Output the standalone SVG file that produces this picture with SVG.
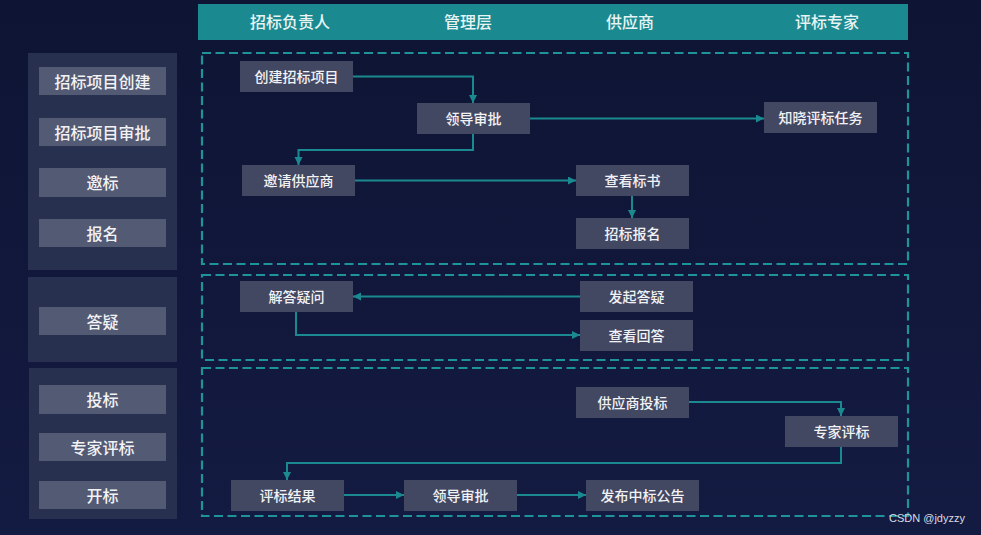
<svg xmlns="http://www.w3.org/2000/svg" width="981" height="535" viewBox="0 0 981 535">
<style>
.hdr{font-family:"Noto Sans CJK SC","Liberation Sans",sans-serif;font-size:16px;font-weight:500;fill:#e8f4f4;text-anchor:middle;dominant-baseline:central}
.panel{fill:#283050}
.btn{fill:#535a74}
.btxt{font-family:"Noto Sans CJK SC","Liberation Sans",sans-serif;font-size:16px;font-weight:500;fill:#f2f2f5;text-anchor:middle;dominant-baseline:central}
.lane{fill:none;stroke:#1e9399;stroke-width:2.2;stroke-dasharray:9 4.5}
.node rect{fill:#434862}
.node text{font-family:"Noto Sans CJK SC","Liberation Sans",sans-serif;font-size:14px;font-weight:500;fill:#f2f2f5;text-anchor:middle;dominant-baseline:central}
.conn{fill:none;stroke:#1b8a90;stroke-width:2;marker-end:url(#arr)}
</style>
<defs>
<linearGradient id="bg" x1="0" y1="0" x2="0" y2="1">
<stop offset="0" stop-color="#0e1433"/>
<stop offset="1" stop-color="#141b42"/>
</linearGradient>
<marker id="arr" markerUnits="userSpaceOnUse" markerWidth="9" markerHeight="9" refX="8" refY="4" orient="auto">
<path d="M0,0 L8,4 L0,8 z" fill="#1b8a90"/>
</marker>
</defs>
<rect x="0" y="0" width="981" height="535" fill="url(#bg)"/>

<g id="header">
<rect x="198" y="4" width="710" height="36" fill="#1b8a90"/>
<text class="hdr" x="290" y="20.5">招标负责人</text>
<text class="hdr" x="468" y="20.5">管理层</text>
<text class="hdr" x="630" y="20.5">供应商</text>
<text class="hdr" x="827" y="20.5">评标专家</text>
</g>

<g id="phases">
<rect class="panel" x="28" y="53" width="149" height="217"/>
<rect class="panel" x="28" y="277" width="149" height="85"/>
<rect class="panel" x="29" y="368" width="148" height="151"/>
<rect class="btn" x="39" y="67" width="127" height="28"/><text class="btxt" x="102.5" y="80.5">招标项目创建</text>
<rect class="btn" x="39" y="118" width="127" height="28"/><text class="btxt" x="102.5" y="131.5">招标项目审批</text>
<rect class="btn" x="39" y="168" width="127" height="29"/><text class="btxt" x="102.5" y="181.5">邀标</text>
<rect class="btn" x="39" y="219" width="127" height="28"/><text class="btxt" x="102.5" y="232.5">报名</text>
<rect class="btn" x="39" y="307" width="127" height="28"/><text class="btxt" x="102.5" y="320.5">答疑</text>
<rect class="btn" x="39" y="385" width="127" height="29"/><text class="btxt" x="102.5" y="398.5">投标</text>
<rect class="btn" x="39" y="433" width="127" height="28"/><text class="btxt" x="102.5" y="446.5">专家评标</text>
<rect class="btn" x="39" y="481" width="127" height="28"/><text class="btxt" x="102.5" y="494.5">开标</text>
</g>

<g id="lanes">
<rect class="lane" x="202" y="53" width="706" height="211"/>
<rect class="lane" x="202" y="275" width="706" height="85"/>
<rect class="lane" x="202" y="368" width="706" height="148"/>
</g>

<g id="connectors">
<path class="conn" d="M353,76.5 H473 V103"/>
<path class="conn" d="M473,134 V150 H298.5 V165"/>
<path class="conn" d="M530,118.5 H764"/>
<path class="conn" d="M355,180.5 H576"/>
<path class="conn" d="M632,196 V218"/>
<path class="conn" d="M580,296.5 H353"/>
<path class="conn" d="M296,312 V335 H580"/>
<path class="conn" d="M689,402 H841 V416"/>
<path class="conn" d="M841,447 V463 H287 V480"/>
<path class="conn" d="M344,495 H404"/>
<path class="conn" d="M517,495 H586"/>
</g>

<g id="n1" class="node"><rect x="240" y="61" width="113" height="31"/><text x="296.5" y="76">创建招标项目</text></g>
<g id="n2" class="node"><rect x="417" y="103" width="113" height="31"/><text x="473.5" y="118">领导审批</text></g>
<g id="n3" class="node"><rect x="764" y="102" width="113" height="31"/><text x="820.5" y="117">知晓评标任务</text></g>
<g id="n4" class="node"><rect x="242" y="165" width="113" height="31"/><text x="298.5" y="180">邀请供应商</text></g>
<g id="n5" class="node"><rect x="576" y="165" width="113" height="31"/><text x="632.5" y="180">查看标书</text></g>
<g id="n6" class="node"><rect x="576" y="218" width="113" height="31"/><text x="632.5" y="233">招标报名</text></g>
<g id="n7" class="node"><rect x="240" y="281" width="113" height="31"/><text x="296.5" y="296">解答疑问</text></g>
<g id="n8" class="node"><rect x="580" y="281" width="113" height="31"/><text x="636.5" y="296">发起答疑</text></g>
<g id="n9" class="node"><rect x="580" y="320" width="113" height="31"/><text x="636.5" y="335">查看回答</text></g>
<g id="n10" class="node"><rect x="576" y="387" width="113" height="31"/><text x="632.5" y="402">供应商投标</text></g>
<g id="n11" class="node"><rect x="785" y="416" width="113" height="31"/><text x="841.5" y="431">专家评标</text></g>
<g id="n12" class="node"><rect x="231" y="480" width="113" height="31"/><text x="287.5" y="495">评标结果</text></g>
<g id="n13" class="node"><rect x="404" y="480" width="113" height="31"/><text x="460.5" y="495">领导审批</text></g>
<g id="n14" class="node"><rect x="586" y="480" width="113" height="31"/><text x="642.5" y="495">发布中标公告</text></g>

<text x="927" y="518" font-family="Liberation Sans, sans-serif" font-size="11" fill="#d8dbe2" text-anchor="middle" dominant-baseline="central">CSDN @jdyzzy</text>
</svg>
